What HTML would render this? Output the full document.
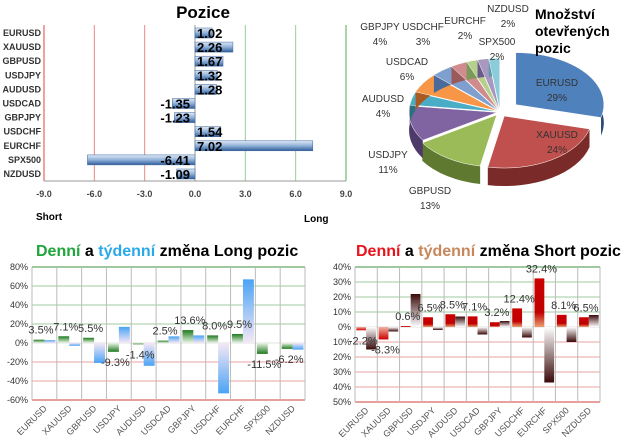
<!DOCTYPE html>
<html><head><meta charset="utf-8">
<style>
html,body{margin:0;padding:0;background:#fff;}
svg{display:block;font-family:"Liberation Sans",sans-serif;}
</style></head>
<body>
<svg id="s" width="629" height="445" viewBox="0 0 629 445" xmlns="http://www.w3.org/2000/svg">
<defs>
<linearGradient id="gBlueH" x1="0" y1="0" x2="0" y2="1"><stop offset="0" stop-color="#dfe9f5"/><stop offset="0.5" stop-color="#8fb0d8"/><stop offset="1" stop-color="#2f5d99"/></linearGradient>
<linearGradient id="gGreenP" x1="0" y1="0" x2="0" y2="1"><stop offset="0" stop-color="#1f7a1f"/><stop offset="1" stop-color="#eaf5e6"/></linearGradient>
<linearGradient id="gGreenN" x1="0" y1="1" x2="0" y2="0"><stop offset="0" stop-color="#1f7a1f"/><stop offset="1" stop-color="#eaf5e6"/></linearGradient>
<linearGradient id="gBlueP" x1="0" y1="0" x2="0" y2="1"><stop offset="0" stop-color="#4aa3f5"/><stop offset="1" stop-color="#f5e8f5"/></linearGradient>
<linearGradient id="gBlueN" x1="0" y1="1" x2="0" y2="0"><stop offset="0" stop-color="#4aa3f5"/><stop offset="1" stop-color="#f5e8f5"/></linearGradient>
<linearGradient id="gRedP" x1="0" y1="0" x2="0" y2="1"><stop offset="0" stop-color="#cc0000"/><stop offset="0.7" stop-color="#c00000"/><stop offset="1" stop-color="#e8a070"/></linearGradient>
<linearGradient id="gRedN" x1="0" y1="1" x2="0" y2="0"><stop offset="0" stop-color="#cc0000"/><stop offset="1" stop-color="#f0b0a0"/></linearGradient>
<linearGradient id="gBrP" x1="0" y1="0" x2="0" y2="1"><stop offset="0" stop-color="#3a0a0a"/><stop offset="1" stop-color="#fff"/></linearGradient>
<linearGradient id="gBrN" x1="0" y1="1" x2="0" y2="0"><stop offset="0" stop-color="#3a0a0a"/><stop offset="1" stop-color="#fff"/></linearGradient>
</defs>
<g id="top"></g><g id="pie"></g><g id="bl"></g><g id="br"></g>
</svg>
<script>
// ---- Positions chart data ----
const posCats = ["EURUSD","XAUUSD","GBPUSD","USDJPY","AUDUSD","USDCAD","GBPJPY","USDCHF","EURCHF","SPX500","NZDUSD"];
const posVals = [1.02,2.26,1.67,1.32,1.28,-1.35,-1.23,1.54,7.02,-6.41,-1.09];
const posTicks = [-9,-6,-3,0,3,6,9];
// ---- Pie data ----
const pieCats = ["EURUSD","XAUUSD","GBPUSD","USDJPY","AUDUSD","USDCAD","GBPJPY","USDCHF","EURCHF","SPX500","NZDUSD"];
const pieVals = [29,24,13,11,4,6,4,3,2,2,2];
// ---- Long change data ----
const chgCats = ["EURUSD","XAUUSD","GBPUSD","USDJPY","AUDUSD","USDCAD","GBPJPY","USDCHF","EURCHF","SPX500","NZDUSD"];
const longDaily = [3.5,7.1,5.5,-9.3,-1.4,2.5,13.6,8.0,9.5,-11.5,-6.2];
const longWeekly = [3,-3,-21,17,-24,7,8,-53,67,0,-7];
const longTicks = [80,60,40,20,0,-20,-40,-60];
// ---- Short change data ----
const shortDaily = [-2.2,-8.3,0.6,6.5,8.5,7.1,3.2,12.4,32.4,8.1,6.5];
const shortWeekly = [-15,-3,22,-2,7,-5,4,-7,-37,-10,8];
const shortTicks = [40,30,20,10,0,-10,-20,-30,-40,-50];

const NS="http://www.w3.org/2000/svg";
function mk(parent,tag,attrs,txt){const e=document.createElementNS(NS,tag);for(const k in attrs)e.setAttribute(k,attrs[k]);if(txt!==undefined)e.textContent=txt;document.getElementById(parent).appendChild(e);return e;}

// ===== Top-left positions =====
const px=v=>195+v*(151/9);
const py=i=>33+i*14.1;
let e;
e=mk('top','text',{x:203,y:18,'text-anchor':'middle','font-size':17,'font-weight':'bold'},'Pozice');

posTicks.forEach(t=>{
  if(t!==0){const col=t<0?'#e88':'#9c9';
    e=mk('top','line',{x1:px(t),x2:px(t),y1:25,y2:181,stroke:t===-9||t===9?(t<0?'#d44':'#5a5'):col,'stroke-width':1});
    }
  e=mk('top','text',{x:px(t),y:197,'text-anchor':'middle','font-size':9,'font-weight':'bold',fill:'#444'},t.toFixed(1));
  
});
e=mk('top','line',{x1:px(-9),x2:px(9),y1:181,y2:181,stroke:'#999'});

e=mk('top','line',{x1:px(0),x2:px(0),y1:25,y2:181,stroke:'#999'});

posCats.forEach((c,i)=>{
  const v=posVals[i],y=py(i);
  e=mk('top','text',{x:41,y:y+3,'text-anchor':'end','font-size':9,'font-weight':'bold',fill:'#333'},c);
  
  e=mk('top','rect',{x:Math.min(px(0),px(v)),y:y-5,width:Math.abs(px(v)-px(0)),height:10,fill:'url(#gBlueH)',stroke:'#3a65a0','stroke-width':0.5});
  
  e=mk('top','text',{x:v>=0?197:190,y:y+5,'text-anchor':v>=0?'start':'end','font-size':13,'font-weight':'bold'},v.toFixed(2));
  
});
e=mk('top','text',{x:36,y:220,'font-size':10,'font-weight':'bold'},'Short');

e=mk('top','text',{x:304,y:222,'font-size':10,'font-weight':'bold'},'Long');


// ===== Pie =====
const pieCols=["#4f81bd","#c0504d","#9bbb59","#8064a2","#4bacc6","#f79646","#7f9fcf","#d08c8c","#b5d08c","#a898c0","#8ccbd9"];
const dark=["#2a4a72","#7a2a28","#5f7a30","#4e3a68","#2a7080","#a85a20","#4a6a9a","#9a5a5a","#7a9a5a","#6a5a8a","#5a9aaa"];
const cx=500,cy=112,rx=88,ry=52,dep=18;
const total=pieVals.reduce((a,b)=>a+b,0);
let ang=-Math.PI/2;
const slices=pieVals.map((v,i)=>{const a0=ang,a1=ang+v/total*2*Math.PI;ang=a1;return {i,a0,a1};});
const pt=(a,ox,oy,d)=>[ox+rx*Math.cos(a),oy+ry*Math.sin(a)+(d||0)];
slices.forEach(s=>{
  const mid=(s.a0+s.a1)/2;const off=s.i===0?20:(s.i===1?8:(s.i===2?6:3));
  const ox=cx+off*Math.cos(mid),oy=cy+off*Math.sin(mid)*0.6;
  const p0=pt(s.a0,ox,oy),p1=pt(s.a1,ox,oy),q0=pt(s.a0,ox,oy,dep),q1=pt(s.a1,ox,oy,dep);
  const lg=(s.a1-s.a0)>Math.PI?1:0;
  e=mk('pie','path',{d:`M${p0}L${q0}A${rx},${ry} 0 ${lg} 1 ${q1}L${p1}A${rx},${ry} 0 ${lg} 0 ${p0}Z`,fill:dark[s.i]});
  
  e=mk('pie','path',{d:`M${ox},${oy}L${p0}A${rx},${ry} 0 ${lg} 1 ${p1}Z`,fill:pieCols[s.i],stroke:'#fff','stroke-width':0.5});
  
});
const pieLab=[[557,86],[557,138],[430,194],[388,158],[383,102],[407,65],[380,30],[423,30],[465,24],[497,45],[508,12]];
pieCats.forEach((c,i)=>{
  const [x,y]=pieLab[i];
  e=mk('pie','text',{x:x,y:y,'text-anchor':'middle','font-size':10,fill:'#333'},c);
  
  e=mk('pie','text',{x:x,y:y+15,'text-anchor':'middle','font-size':10,fill:'#333'},pieVals[i]+'%');
  
});
['Množství','otevřených','pozic'].forEach((t,k)=>{
  e=mk('pie','text',{x:535,y:19+k*17,'font-size':14,'font-weight':'bold'},t);
  
});

// ===== Change charts =====
function changeChart(g,x0,x1,yTop,yBot,ticks,daily,weekly,fills,gridPos,gridNeg,absTicks){
  const tmax=ticks[0],tmin=ticks[ticks.length-1];
  const y=v=>yTop+(tmax-v)/(tmax-tmin)*(yBot-yTop);
  const cw=(x1-x0)/chgCats.length,bw=cw*0.44;
  ticks.forEach(t=>{
    e=mk(g,'line',{x1:x0,x2:x1,y1:y(t),y2:y(t),stroke:t>0?gridPos:(t<0?gridNeg:'#ccc'),'stroke-width':t===tmin||t===tmax?1.2:1,opacity:t===tmin||t===tmax?1:0.6});
    
    e=mk(g,'text',{x:x0-4,y:y(t)+3,'text-anchor':'end','font-size':9,fill:'#333'},(absTicks?Math.abs(t):t)+'%');
    
  });
  for(let i=0;i<=chgCats.length;i++){
    e=mk(g,'line',{x1:x0+i*cw,x2:x0+i*cw,y1:yTop,y2:yBot,stroke:'#bbb'});
    
  }
  chgCats.forEach((c,i)=>{
    const cxm=x0+i*cw+cw/2;
    const d=daily[i],w=weekly[i];
    e=mk(g,'rect',{x:cxm-bw,y:Math.min(y(0),y(d)),width:bw,height:Math.abs(y(d)-y(0)),fill:d>=0?fills[0]:fills[1]});
    
    e=mk(g,'rect',{x:cxm,y:Math.min(y(0),y(w)),width:bw,height:Math.abs(y(w)-y(0)),fill:w>=0?fills[2]:fills[3]});
    
    e=mk(g,'text',{x:cxm-bw/2+2,y:d>=0?y(d)-6:y(d)+14,'text-anchor':'middle','font-size':11,fill:'#333'},d.toFixed(1)+'%');
    
    e=mk(g,'text',{x:0,y:0,'text-anchor':'end','font-size':9,fill:'#555',transform:`translate(${cxm+3},${yBot+9}) rotate(-45)`},c);
    
  });
}
changeChart('bl',32,305,267,400,longTicks,longDaily,longWeekly,['url(#gGreenP)','url(#gGreenN)','url(#gBlueP)','url(#gBlueN)'],'#6a6','#d66',false);
changeChart('br',355,600,267,402,shortTicks,shortDaily,shortWeekly,['url(#gRedP)','url(#gRedN)','url(#gBrP)','url(#gBrN)'],'#6a6','#d66',true);

e=mk('bl','text',{x:36,y:256,'font-size':16,'font-weight':'bold'});

e.innerHTML='<tspan fill="#1fa53a">Denní</tspan> a <tspan fill="#29a9e8">týdenní</tspan> změna Long pozic';
e=mk('br','text',{x:356,y:256,'font-size':16,'font-weight':'bold'});

e.innerHTML='<tspan fill="#e8141b">Denní</tspan> a <tspan fill="#c8865a">týdenní</tspan> změna Short pozic';
</script>
</body></html>
